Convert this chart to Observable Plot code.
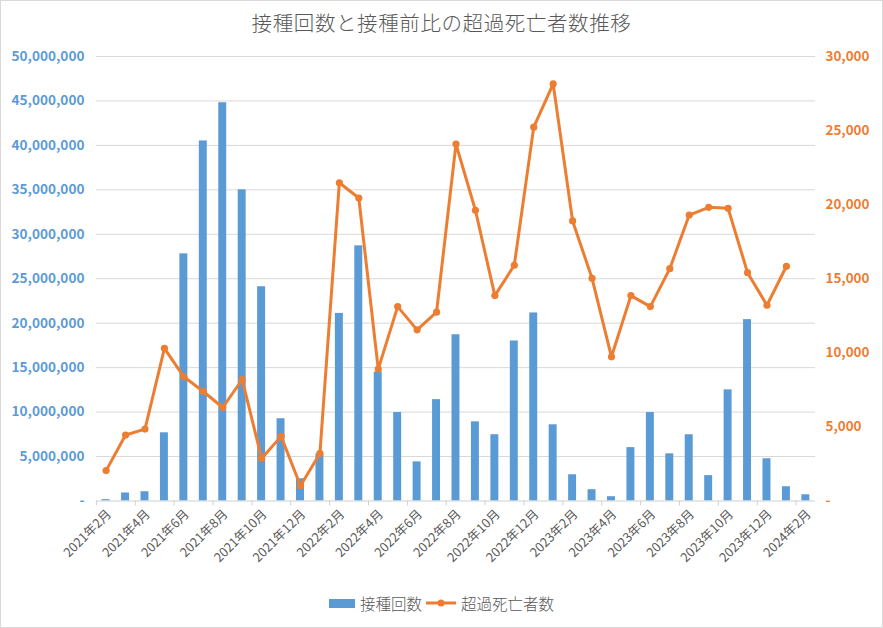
<!DOCTYPE html>
<html>
<head>
<meta charset="utf-8">
<script src="https://cdn.jsdelivr.net/npm/d3@7"></script>
<script src="https://cdn.jsdelivr.net/npm/@observablehq/plot@0.6"></script>
<style>
  body { margin: 0; background: #fff; }
  #chart {
    position: relative; width: 883px; height: 628px; box-sizing: border-box;
    border: 1px solid #d9d9d9; background: #fff; overflow: hidden;
    font-family: "Noto Sans CJK JP", "Noto Sans", sans-serif;
  }
  #title {
    position: absolute; left: 0; top: 6px; width: 100%; text-align: center;
    font-size: 20.5px; font-weight: 300; color: #595959; letter-spacing: 0.6px;
  }
  #plot { position: absolute; left: -1px; top: 43px; }
  #legend {
    position: absolute; left: 0; top: 591px; width: 100%;
    display: flex; justify-content: center; align-items: center;
    font-size: 15.5px; font-weight: 300; color: #595959;
  }
  #legend .item { display: flex; align-items: center; margin: 0 2px; }
  #legend svg { margin-right: 5px; }
</style>
</head>
<body>
<div id="chart">
  <div id="title">接種回数と接種前比の超過死亡者数推移</div>
  <div id="plot"></div>
  <div id="legend">
    <div class="item"><svg width="26" height="9"><rect x="0" y="0" width="26" height="9" fill="#5B9BD5"/></svg>接種回数</div>
    <div class="item"><svg width="30" height="10"><line x1="0" y1="5" x2="30" y2="5" stroke="#ED7D31" stroke-width="3"/><circle cx="15" cy="5" r="3.5" fill="#ED7D31"/></svg>超過死亡者数</div>
  </div>
</div>
<script>
// Months on the category axis
const months = [
  "2021年2月", "2021年3月", "2021年4月", "2021年5月", "2021年6月", "2021年7月",
  "2021年8月", "2021年9月", "2021年10月", "2021年11月", "2021年12月",
  "2022年1月", "2022年2月", "2022年3月", "2022年4月", "2022年5月", "2022年6月",
  "2022年7月", "2022年8月", "2022年9月", "2022年10月", "2022年11月", "2022年12月",
  "2023年1月", "2023年2月", "2023年3月", "2023年4月", "2023年5月", "2023年6月",
  "2023年7月", "2023年8月", "2023年9月", "2023年10月", "2023年11月", "2023年12月",
  "2024年1月", "2024年2月"
];

// Monthly vaccination doses (left axis)
const doses = [
  150000, 900000, 1040000, 7670000, 27800000, 40500000,
  44800000, 35000000, 24100000, 9250000, 2500000,
  5300000, 21100000, 28700000, 14500000, 9950000, 4400000,
  11400000, 18700000, 8900000, 7450000, 18000000, 21150000,
  8570000, 2950000, 1270000, 480000, 6000000, 9950000,
  5300000, 7450000, 2850000, 12500000, 20400000, 4750000,
  1600000, 700000
];

// Excess deaths compared with the pre-vaccination baseline (right axis)
const excessDeaths = [
  2050, 4450, 4850, 10300, 8380, 7390,
  6310, 8200, 2870, 4360, 1030,
  3210, 21480, 20450, 8900, 13120, 11550,
  12740, 24090, 19620, 13860, 15910, 25230,
  28150, 18900, 15030, 9730, 13860, 13120,
  15680, 19300, 19820, 19750, 15410, 13210,
  15840, null
];

// Axis tick values
const leftTicks = [0, 5e6, 10e6, 15e6, 20e6, 25e6, 30e6, 35e6, 40e6, 45e6, 50e6];
const rightTicks = [0, 5000, 10000, 15000, 20000, 25000, 30000];
const labeledMonths = months.filter((d, i) => i % 2 === 0);

const leftMax = 50e6, rightMax = 30000;
const k = leftMax / rightMax; // right-axis units -> left-axis units

const table = months.map((m, i) => ({month: m, doses: doses[i], deaths: excessDeaths[i]}));
const lineData = table.filter(d => d.deaths != null);

const fmt = d3.format(",");
const blue = "#5B9BD5", orange = "#ED7D31";

const W = 883, H = 546, ML = 96, MR = 67, MT = 12, MB = 89;
const step = (W - ML - MR) / months.length;

const chart = Plot.plot({
  width: W, height: H,
  marginLeft: ML, marginRight: MR, marginTop: MT, marginBottom: MB,
  style: {fontFamily: "'Noto Sans CJK JP', 'Noto Sans', sans-serif", background: "transparent"},
  x: {domain: months, paddingInner: 0.59, paddingOuter: 0.295, round: false, axis: null},
  y: {domain: [0, leftMax], axis: null},
  marks: [
    Plot.ruleY(leftTicks.slice(1), {stroke: "#d9d9d9", strokeWidth: 1}),
    Plot.barY(table, {x: "month", y: "doses", fill: blue}),
    Plot.ruleY([0], {stroke: "#d0d0d0", strokeWidth: 1}),
    // tick marks between every other month
    Plot.ruleX(labeledMonths, {x: d => d, y1: 0, y2: 0, insetBottom: -5, dx: -step / 2, stroke: "#d0d0d0"}),
    Plot.line(lineData, {x: "month", y: d => d.deaths * k, stroke: orange, strokeWidth: 3, strokeLinejoin: "round"}),
    Plot.dot(lineData, {x: "month", y: d => d.deaths * k, r: 3.6, fill: orange, stroke: "none"}),
    Plot.axisY(leftTicks, {
      anchor: "left", tickSize: 0, tickPadding: 12, label: null,
      tickFormat: d => d === 0 ? "-" : fmt(d),
      fill: blue, fontSize: 13.6, fontWeight: "bold"
    }),
    Plot.axisY(rightTicks.map(d => d * k), {
      anchor: "right", tickSize: 0, tickPadding: 10, label: null,
      tickFormat: d => d === 0 ? "-" : fmt(Math.round(d / k)),
      fill: orange, fontSize: 13.4, fontWeight: "bold"
    }),
    Plot.axisX(labeledMonths, {
      anchor: "bottom", tickSize: 0, tickPadding: 11, tickRotate: -45, label: null,
      dx: 3, fill: "#595959", fontSize: 12.8, letterSpacing: 0.4
    })
  ]
});
document.getElementById("plot").append(chart);
</script>
</body>
</html>
